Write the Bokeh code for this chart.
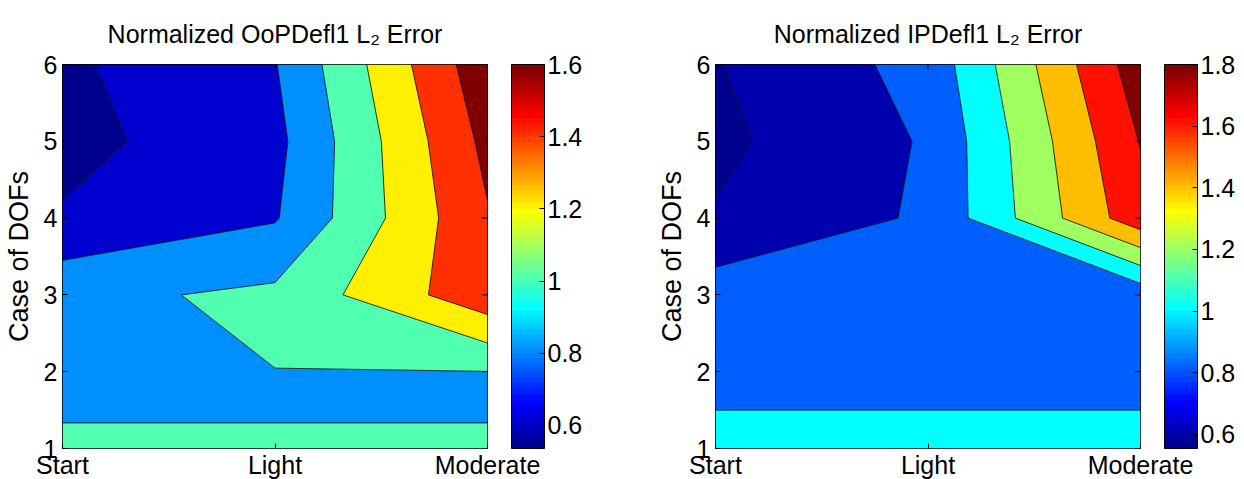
import numpy as np
from bokeh.plotting import figure
from bokeh.models import (Range1d, FixedTicker, ColorBar, LinearColorMapper,
                          NumeralTickFormatter)
from bokeh.layouts import row
from bokeh.embed import file_html
from bokeh.resources import INLINE

# ---------------- data ----------------
x_labels = ["Start", "Light", "Moderate"]
cases = [1, 2, 3, 4, 5, 6]

# Normalized OoPDefl1 L2 error, values for cases 1..6 at each load level
oop_start = [1.03, 0.94, 0.948, 0.619, 0.536, 0.566]
oop_light = [1.001, 0.998, 1.041, 0.784, 0.745, 0.79]
oop_moderate = [1.001, 0.998, 1.538, 1.584, 1.654, 1.74]
oop_levels = [0.6, 0.8, 1.0, 1.2, 1.4, 1.6]
oop_ticks = [0.6, 0.8, 1.0, 1.2, 1.4, 1.6]

# Normalized IPDefl1 L2 error
ip_start = [1.05, 0.95, 0.903, 0.617, 0.554, 0.59]
ip_light = [1.05, 0.95, 0.86, 0.83, 0.82, 0.87]
ip_moderate = [1.05, 0.95, 0.872, 1.73, 1.81, 1.914]
ip_levels = [0.6, 0.8, 1.0, 1.2, 1.4, 1.6, 1.8]
ip_ticks = [0.6, 0.8, 1.0, 1.2, 1.4, 1.6, 1.8]

FONT = "Liberation Sans"


def jet64():
    out = []
    for i in range(64):
        if i <= 7:
            b = 0.5625 + 0.0625 * i
        elif i <= 23:
            b = 1.0
        elif i <= 39:
            b = 1.0 - (i - 23) / 16
        else:
            b = 0.0
        if i <= 7:
            g = 0.0
        elif i <= 23:
            g = (i - 7) / 16
        elif i <= 39:
            g = 1.0
        elif i <= 55:
            g = 1.0 - (i - 39) / 16
        else:
            g = 0.0
        if i <= 23:
            r = 0.0
        elif i <= 39:
            r = (i - 23) / 16
        elif i <= 55:
            r = 1.0
        else:
            r = 1.0 - (i - 55) / 16
        out.append("#%02x%02x%02x" % (round(r * 255), round(g * 255), round(b * 255)))
    return out


JET = jet64()


def make_panel(title, cols, levels, ticks, min_left, min_right):
    z = np.array(cols, dtype=float).T          # shape (cases, load levels)
    xs = np.arange(1, len(x_labels) + 1)
    ys = np.array(cases, dtype=float)
    cmin = float(z.min())
    cmax = float(levels[-1])

    def band_color(v):
        k = int(round((v - cmin) / (cmax - cmin) * 64))
        return JET[max(0, min(63, k))]

    bounds = [cmin - 1.0] + list(levels) + [float(z.max()) + 1.0]
    fills = [JET[0]] + [band_color(v) for v in levels]

    p = figure(frame_width=425, frame_height=384,
               x_range=Range1d(1, len(x_labels)), y_range=Range1d(cases[0], cases[-1]),
               output_backend="svg", toolbar_location=None,
               min_border_left=min_left, min_border_right=min_right,
               min_border_top=63, min_border_bottom=0)
    p.contour(x=xs, y=ys, z=z, levels=bounds, fill_color=fills,
              line_color="black", line_width=0.8)

    # inward ticks on the top and right edges (half of each dash is clipped by the frame)
    p.scatter(x=xs, y=[cases[-1]] * len(xs), marker="dash", angle=np.pi / 2,
              size=11, line_color="black", line_width=1)
    p.scatter(x=[xs[-1]] * len(cases), y=cases, marker="dash",
              size=11, line_color="black", line_width=1)

    p.xgrid.visible = False
    p.ygrid.visible = False
    p.outline_line_color = "black"
    p.outline_line_width = 1
    p.background_fill_color = "white"

    xa = p.below[0]
    ya = p.left[0]

    p.title.text = title
    p.title.align = "center"
    p.title.text_font = FONT
    p.title.text_font_size = "25px"
    p.title.text_font_style = "normal"
    p.title.text_color = "black"
    p.title.standoff = 34

    xa.ticker = FixedTicker(ticks=[int(v) for v in xs])
    xa.major_label_overrides = {int(v): lab for v, lab in zip(xs, x_labels)}
    ya.ticker = FixedTicker(ticks=cases)
    ya.axis_label = "Case of DOFs"
    ya.axis_label_text_font = FONT
    ya.axis_label_text_font_size = "27px"
    ya.axis_label_text_font_style = "normal"
    ya.axis_label_text_color = "black"
    ya.axis_label_standoff = 7
    for ax in (xa, ya):
        ax.axis_line_color = None
        ax.major_tick_in = 5
        ax.major_tick_out = 0
        ax.minor_tick_in = 0
        ax.minor_tick_out = 0
        ax.major_tick_line_color = "black"
        ax.major_label_text_font = FONT
        ax.major_label_text_font_size = "25px"
        ax.major_label_text_color = "black"
    xa.major_label_standoff = 2
    ya.major_label_standoff = 5

    mapper = LinearColorMapper(palette=JET, low=cmin, high=cmax)
    cb = ColorBar(color_mapper=mapper, width=33, height=384, padding=0, margin=0,
                  location=(24, 0), ticker=FixedTicker(ticks=ticks),
                  formatter=NumeralTickFormatter(format="0.[0]"),
                  major_label_text_font=FONT, major_label_text_font_size="25px",
                  major_label_text_color="black",
                  major_tick_in=5, major_tick_out=0, major_tick_line_color="black",
                  minor_tick_line_color=None,
                  bar_line_color="black", bar_line_width=1, label_standoff=3,
                  background_fill_alpha=0, border_line_color=None)
    p.add_layout(cb, "right")
    return p


p1 = make_panel("Normalized OoPDefl1 L\u2082 Error",
                [oop_start, oop_light, oop_moderate], oop_levels, oop_ticks, 62, 133)
p2 = make_panel("Normalized IPDefl1 L\u2082 Error",
                [ip_start, ip_light, ip_moderate], ip_levels, ip_ticks, 95, 100)

layout = row(p1, p2)
open("out.html", "w").write(file_html(layout, INLINE))
